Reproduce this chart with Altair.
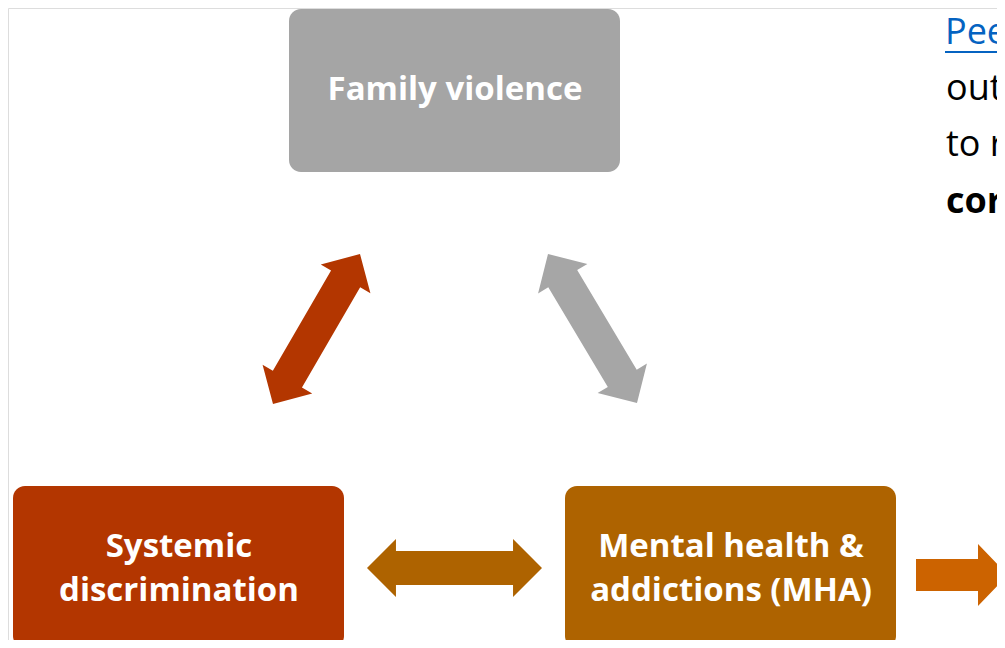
import math
import altair as alt
import pandas as pd

# ---- nodes (rounded boxes) ----
box_names = ["Family violence", "Systemic discrimination", "Mental health & addictions (MHA)"]
box_x1 = [289, 13, 565]
box_x2 = [620, 344, 896]
box_y1 = [9, 486, 486]
box_y2 = [172, 648, 648]
box_colors = ["#A5A5A5", "#B33600", "#AE6300"]

# ---- labels inside boxes (one row per line) ----
label_text = ["Family violence", "Systemic", "discrimination", "Mental health &", "addictions (MHA)"]
label_x = [455, 179, 179, 731, 731]
label_y = [100, 557, 601, 557, 601]

# ---- double-headed arrows (tip to tip) ----
arrow_x1 = [273, 548, 367]
arrow_y1 = [404, 254, 568]
arrow_x2 = [360, 637, 542]
arrow_y2 = [254, 403, 568]
arrow_colors = ["#B33600", "#A6A6A6", "#AE6300"]

# ---- single arrow leaving to the right ----
out_x1 = [916]
out_y1 = [575]
out_x2 = [1008]
out_y2 = [575]
out_colors = ["#CC6300"]

# ---- cut-off text at the top right ----
side_text = ["Pee", "out", "to r", "cor"]
side_x = [945, 946, 946, 946]
side_y = [44, 100, 156, 213]
side_bold = [False, False, False, True]
side_color = ["#0563C1", "#000000", "#000000", "#000000"]

W, H = 989, 632
xs = alt.Scale(domain=[8, 8 + W], nice=False, zero=False)
ys = alt.Scale(domain=[8, 8 + H], nice=False, zero=False, reverse=True)


def arrow_frame(x1, y1, x2, y2, colors):
    rows = []
    for a, b, c, d, col in zip(x1, y1, x2, y2, colors):
        dx, dy = c - a, d - b
        length = math.hypot(dx, dy)
        ang = math.degrees(math.atan2(dy, dx)) % 360
        rows.append({"cx": (a + c) / 2, "cy": (b + d) / 2, "angle": ang,
                     "size": length ** 2, "color": col})
    return pd.DataFrame(rows)


boxes = pd.DataFrame({"name": box_names, "x1": box_x1, "x2": box_x2,
                      "y1": box_y1, "y2": box_y2, "color": box_colors})
labels = pd.DataFrame({"text": label_text, "x": label_x, "y": label_y})
dbl = arrow_frame(arrow_x1, arrow_y1, arrow_x2, arrow_y2, arrow_colors)
single = arrow_frame(out_x1, out_y1, out_x2, out_y2, out_colors)
side = pd.DataFrame({"text": side_text, "x": side_x, "y": side_y,
                     "bold": side_bold, "color": side_color})

box_layer = alt.Chart(boxes).mark_rect(cornerRadius=12).encode(
    x=alt.X("x1:Q", scale=xs, axis=None),
    x2="x2:Q",
    y=alt.Y("y1:Q", scale=ys, axis=None),
    y2="y2:Q",
    color=alt.Color("color:N", scale=None),
)

label_layer = alt.Chart(labels).mark_text(
    font="Open Sans", fontWeight="bold", fontSize=33, color="white",
    align="center", baseline="alphabetic",
).encode(
    x=alt.X("x:Q", scale=xs, axis=None),
    y=alt.Y("y:Q", scale=ys, axis=None),
    text="text:N",
)

DOUBLE = ("M -1 0 L -0.669 -0.331 L -0.669 -0.194 L 0.669 -0.194 L 0.669 -0.331 "
          "L 1 0 L 0.669 0.331 L 0.669 0.194 L -0.669 0.194 L -0.669 0.331 Z")
SINGLE = ("M -1 -0.348 L 0.348 -0.348 L 0.348 -0.674 L 1 0 L 0.348 0.674 "
          "L 0.348 0.348 L -1 0.348 Z")


def arrow_layer(df, shape):
    return alt.Chart(df).mark_point(
        shape=shape, filled=True, opacity=1, strokeWidth=0,
    ).encode(
        x=alt.X("cx:Q", scale=xs, axis=None),
        y=alt.Y("cy:Q", scale=ys, axis=None),
        angle=alt.Angle("angle:Q", scale=None),
        size=alt.Size("size:Q", scale=None),
        color=alt.Color("color:N", scale=None),
    )


def side_layer(df, weight):
    return alt.Chart(df).mark_text(
        font="Open Sans", fontSize=36, fontWeight=weight, align="left", baseline="alphabetic",
    ).encode(
        x=alt.X("x:Q", scale=xs, axis=None),
        y=alt.Y("y:Q", scale=ys, axis=None),
        text="text:N",
        color=alt.Color("color:N", scale=None),
    )


underline = alt.Chart(pd.DataFrame({"x1": [945], "x2": [1005], "y": [52]})).mark_rule(
    color="#0563C1", strokeWidth=2,
).encode(
    x=alt.X("x1:Q", scale=xs, axis=None),
    x2="x2:Q",
    y=alt.Y("y:Q", scale=ys, axis=None),
)

chart = alt.layer(
    box_layer, label_layer,
    arrow_layer(dbl, DOUBLE), arrow_layer(single, SINGLE),
    side_layer(side[~side["bold"]], "normal"), side_layer(side[side["bold"]], "bold"),
    underline,
).properties(
    width=W, height=H, padding=0, autosize=alt.AutoSizeParams(type="none"),
).configure_view(stroke="transparent", strokeWidth=0).configure(background="white")

chart.save("out.html", embed_options={"renderer": "svg", "actions": False})
